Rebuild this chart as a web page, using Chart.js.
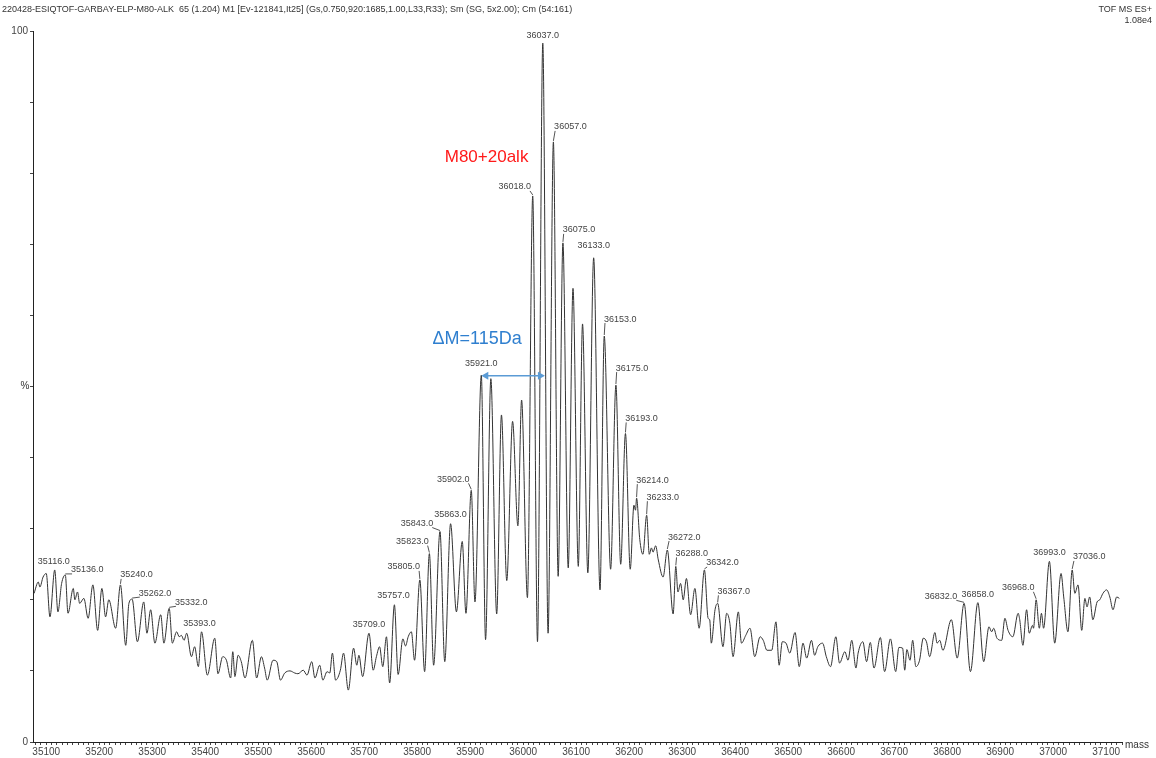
<!DOCTYPE html>
<html>
<head>
<meta charset="utf-8">
<script src="https://cdn.jsdelivr.net/npm/chart.js@4"></script>
<style>
  html, body { margin: 0; padding: 0; background: #fff; }
  #wrap { width: 1156px; height: 758px; }
</style>
</head>
<body>
<div id="wrap"><canvas id="spectrum" width="1156" height="758"></canvas></div>
<script>
// spectrum trace (mass in Da, intensity in %)
const masses = [
  35077, 35085, 35088, 35094, 35100, 35107, 35116, 35122, 35129, 35136,
  35141, 35151, 35154, 35159, 35163, 35171, 35179, 35188, 35197, 35205,
  35212, 35218, 35231, 35240, 35250, 35256, 35262, 35272, 35284, 35290,
  35297, 35305, 35316, 35322, 35332, 35338, 35346, 35351, 35355, 35360,
  35365, 35374, 35380, 35387, 35393, 35404, 35418, 35424, 35433, 35440,
  35448, 35452, 35456, 35462, 35468, 35475, 35489, 35497, 35506, 35512,
  35517, 35528, 35535, 35542, 35550, 35560, 35569, 35575, 35585, 35592,
  35601, 35607, 35616, 35622, 35630, 35635, 35640, 35646, 35655, 35661,
  35670, 35680, 35686, 35690, 35697, 35709, 35717, 35723, 35729, 35735,
  35742, 35748, 35757, 35764, 35773, 35778, 35783, 35789, 35795, 35805,
  35814, 35823, 35831, 35843, 35852, 35863, 35874, 35885, 35892, 35902,
  35909, 35921, 35929, 35939, 35950, 35959, 35969, 35980, 35990, 35997,
  36008, 36018, 36027, 36037, 36047, 36057, 36066, 36075, 36085, 36094,
  36104, 36112, 36122, 36133, 36145, 36153, 36165, 36175, 36184, 36193,
  36202, 36209, 36212, 36214, 36220, 36226, 36233, 36238, 36242, 36245,
  36250, 36255, 36264, 36272, 36283, 36288, 36292, 36297, 36302, 36308,
  36316, 36324, 36332, 36342, 36349, 36352, 36355, 36362, 36367, 36377,
  36384, 36390, 36396, 36406, 36412, 36420, 36428, 36437, 36447, 36453,
  36460, 36469, 36477, 36483, 36489, 36496, 36503, 36513, 36521, 36528,
  36535, 36544, 36550, 36556, 36565, 36572, 36580, 36590, 36597, 36607,
  36613, 36620, 36628, 36632, 36641, 36648, 36655, 36662, 36674, 36682,
  36693, 36703, 36709, 36716, 36720, 36724, 36730, 36735, 36741, 36748,
  36755, 36761, 36767, 36777, 36781, 36786, 36792, 36808, 36819, 36832,
  36844, 36858, 36869, 36879, 36884, 36888, 36894, 36903, 36909, 36915,
  36924, 36934, 36937, 36943, 36950, 36955, 36961, 36963, 36968, 36974,
  36978, 36982, 36993, 37003, 37015, 37020, 37028, 37036, 37041, 37047,
  37054, 37060, 37064, 37069, 37075, 37083, 37088, 37094, 37101, 37107,
  37113, 37120, 37125
];
const intensities = [
  20.9, 22.5, 21.8, 23.2, 23.7, 17.6, 24.2, 18.3, 22.3, 23.5,
  18.1, 21.6, 20.0, 21.1, 19.5, 20.2, 17.4, 22.1, 15.7, 21.6,
  17.6, 20.0, 16.0, 22.1, 13.6, 19.5, 20.1, 14.1, 19.7, 15.3,
  18.6, 13.9, 17.9, 13.9, 18.8, 13.9, 15.5, 14.8, 15.0, 14.3,
  15.3, 12.0, 13.4, 10.6, 15.5, 9.4, 14.6, 9.6, 12.0, 11.5,
  9.0, 12.7, 9.2, 12.2, 11.3, 9.0, 14.3, 9.0, 12.0, 10.4,
  8.7, 11.5, 11.3, 8.7, 9.7, 10.0, 9.7, 9.6, 10.1, 9.4,
  11.3, 9.0, 10.8, 8.7, 9.9, 9.7, 12.5, 8.7, 10.1, 12.5,
  7.3, 13.2, 10.8, 12.2, 9.2, 15.3, 10.1, 12.0, 13.4, 10.6,
  14.8, 8.3, 19.3, 9.5, 14.5, 13.5, 14.8, 15.5, 11.5, 22.8,
  9.9, 26.5, 10.8, 29.6, 11.3, 30.7, 18.3, 28.2, 18.1, 35.4,
  19.7, 51.6, 14.4, 51.1, 18.0, 46.0, 22.7, 45.1, 30.4, 48.1,
  20.3, 76.8, 14.1, 98.3, 15.3, 84.4, 23.3, 70.2, 24.5, 63.8,
  24.7, 58.8, 23.8, 68.1, 21.4, 57.1, 24.3, 50.2, 25.0, 43.4,
  24.3, 33.3, 32.6, 34.3, 28.5, 26.4, 31.9, 26.4, 27.3, 26.7,
  27.6, 25.6, 23.2, 27.0, 18.0, 24.7, 21.1, 22.3, 20.0, 23.0,
  17.9, 21.6, 16.0, 24.2, 17.4, 17.2, 13.9, 18.6, 19.5, 13.4,
  18.1, 16.7, 12.0, 18.3, 13.9, 15.0, 16.0, 12.0, 14.8, 14.3,
  12.9, 12.9, 16.9, 10.8, 14.1, 13.9, 12.5, 15.4, 10.6, 13.9,
  11.8, 14.3, 12.2, 13.4, 13.9, 12.0, 10.6, 14.8, 11.1, 12.7,
  11.5, 14.3, 10.4, 12.5, 14.1, 11.3, 14.0, 10.4, 14.7, 9.9,
  14.5, 9.9, 13.3, 13.2, 10.1, 13.0, 11.5, 14.3, 10.6, 11.5,
  14.6, 14.1, 12.0, 15.4, 13.9, 14.3, 12.9, 17.2, 11.8, 19.5,
  9.9, 19.6, 11.3, 16.2, 15.5, 16.0, 14.6, 14.3, 17.4, 15.7,
  14.8, 18.1, 17.2, 13.6, 18.6, 15.3, 16.4, 16.0, 20.0, 16.0,
  18.1, 16.0, 25.4, 13.9, 23.7, 20.4, 15.5, 24.2, 20.9, 22.1,
  15.7, 20.2, 19.0, 20.4, 17.2, 19.7, 20.0, 20.9, 21.4, 20.4,
  18.6, 20.4, 20.2
];

// labelled peaks (mass of the peak)
const peakLabels = [
  35116, 35136, 35240, 35262, 35332, 35393, 35709, 35757, 35805, 35823,
  35843, 35863, 35902, 35921, 36018, 36037, 36057, 36075, 36133, 36153,
  36175, 36193, 36214, 36233, 36272, 36288, 36342, 36367, 36832, 36858,
  36968, 36993, 37036
];
// where each label text sits relative to its peak, in px [dx, dy]
const labelOffsets = [
  [-1, -8], [22, -5], [16, -10], [23, -6], [22, -6], [-2, -8], [0, -9], [-1, -9], [-16, -13], [-17, -12],
  [-23, -8], [0, -9], [-18, -11], [0, -12], [-18, -9], [0, -8], [17, -15], [16, -13], [0, -12], [16, -17],
  [16, -17], [16, -15], [16, -18], [16, -18], [17, -13], [16, -13], [18, -7], [16, -12], [-23, -7], [0, -8],
  [-18, -12], [0, -9], [17, -13]
];

const xMin = 35075, xMax = 37130;
const xTickStep = 10, xLabelStep = 100;
const yTickStep = 10;

// annotations
const deltaArrow = [35921, 36041, 51.5];   // from mass, to mass, at intensity
const peakNote = { text: 'M80+20alk', mass: 35852, y: 82.3 };
const deltaNote = { text: '\u0394M=115Da', mass: 35829, y: 56.7 };

const headerLeft = '220428-ESIQTOF-GARBAY-ELP-M80-ALK  65 (1.204) M1 [Ev-121841,It25] (Gs,0.750,920:1685,1.00,L33,R33); Sm (SG, 5x2.00); Cm (54:161)';
const headerRight = ['TOF MS ES+', '1.08e4'];

const points = masses.map((m, i) => ({ x: m, y: intensities[i] }));
const FONT = '"Liberation Sans", Arial, sans-serif';

const decorations = {
  id: 'decorations',
  afterDraw(chart) {
    const ctx = chart.ctx;
    const xs = chart.scales.x, ys = chart.scales.y;
    ctx.save();

    // header
    ctx.fillStyle = '#333';
    ctx.font = '9px ' + FONT;
    ctx.textBaseline = 'middle';
    ctx.textAlign = 'left';
    ctx.fillText(headerLeft, 2, 10);
    ctx.textAlign = 'right';
    ctx.fillText(headerRight[0], 1152, 10);
    ctx.fillText(headerRight[1], 1152, 21);

    // axis names
    ctx.font = '10px ' + FONT;
    ctx.textAlign = 'center';
    ctx.fillText('%', 25, (ys.top + ys.bottom) / 2);
    ctx.textAlign = 'left';
    ctx.fillText('mass', xs.right + 3, ys.bottom + 3);

    // peak labels with leader lines
    ctx.font = '9px ' + FONT;
    ctx.strokeStyle = '#555';
    ctx.lineWidth = 1;
    peakLabels.forEach((m, i) => {
      const idx = masses.indexOf(m);
      const px = xs.getPixelForValue(m);
      const py = ys.getPixelForValue(intensities[idx]);
      const [dx, dy] = labelOffsets[i];
      const txt = m.toFixed(1);
      const w = ctx.measureText(txt).width;
      const cx = px + dx, cy = py + dy;
      ctx.fillStyle = '#444';
      ctx.textAlign = 'center';
      ctx.fillText(txt, cx, cy);
      if (Math.abs(dx) > 8) {
        const ex = dx > 0 ? cx - w / 2 + 1 : cx + w / 2 - 1;
        ctx.beginPath();
        ctx.moveTo(ex, cy + 4);
        ctx.lineTo(px, py - 1);
        ctx.stroke();
      }
    });

    // coloured notes
    ctx.textAlign = 'left';
    ctx.font = '17px ' + FONT;
    ctx.fillStyle = '#ff1a1a';
    ctx.fillText(peakNote.text, xs.getPixelForValue(peakNote.mass), ys.getPixelForValue(peakNote.y));
    ctx.fillStyle = '#2f7fcf';
    ctx.font = '18px ' + FONT;
    ctx.fillText(deltaNote.text, xs.getPixelForValue(deltaNote.mass), ys.getPixelForValue(deltaNote.y));

    // double arrow
    const ax1 = xs.getPixelForValue(deltaArrow[0]);
    const ax2 = xs.getPixelForValue(deltaArrow[1]);
    const ay = ys.getPixelForValue(deltaArrow[2]);
    ctx.strokeStyle = '#5b9bd5';
    ctx.fillStyle = '#5b9bd5';
    ctx.lineWidth = 1.5;
    ctx.beginPath();
    ctx.moveTo(ax1 + 5, ay);
    ctx.lineTo(ax2 - 5, ay);
    ctx.stroke();
    ctx.beginPath();
    ctx.moveTo(ax1, ay); ctx.lineTo(ax1 + 7, ay - 4); ctx.lineTo(ax1 + 7, ay + 4); ctx.closePath();
    ctx.moveTo(ax2, ay); ctx.lineTo(ax2 - 7, ay - 4); ctx.lineTo(ax2 - 7, ay + 4); ctx.closePath();
    ctx.fill();

    ctx.restore();
  }
};

new Chart(document.getElementById('spectrum'), {
  type: 'line',
  data: {
    datasets: [{
      data: points,
      borderColor: '#333',
      borderWidth: 1,
      pointRadius: 0,
      fill: false,
      cubicInterpolationMode: 'monotone'
    }]
  },
  options: {
    responsive: false,
    devicePixelRatio: 1,
    animation: false,
    layout: { padding: { top: 31, right: 34, left: 0, bottom: 0 } },
    plugins: { legend: { display: false }, tooltip: { enabled: false } },
    scales: {
      x: {
        type: 'linear',
        min: xMin,
        max: xMax,
        afterFit(scale) { scale.height = 16; },
        border: { color: '#222', width: 1 },
        grid: { drawOnChartArea: false, tickLength: 3, color: '#444' },
        ticks: {
          stepSize: xTickStep,
          includeBounds: false,
          autoSkip: false,
          maxRotation: 0,
          padding: 1,
          color: '#444',
          font: { family: FONT, size: 10 },
          callback: v => (v % xLabelStep === 0 ? String(v) : '')
        }
      },
      y: {
        min: 0,
        max: 100,
        afterFit(scale) { scale.width = 33; },
        border: { color: '#222', width: 1 },
        grid: { drawOnChartArea: false, tickLength: 3, color: '#444' },
        ticks: {
          stepSize: yTickStep,
          padding: 2,
          color: '#444',
          font: { family: FONT, size: 10 },
          callback: v => (v === 0 || v === 100 ? String(v) : '')
        }
      }
    }
  },
  plugins: [decorations]
});
</script>
</body>
</html>
